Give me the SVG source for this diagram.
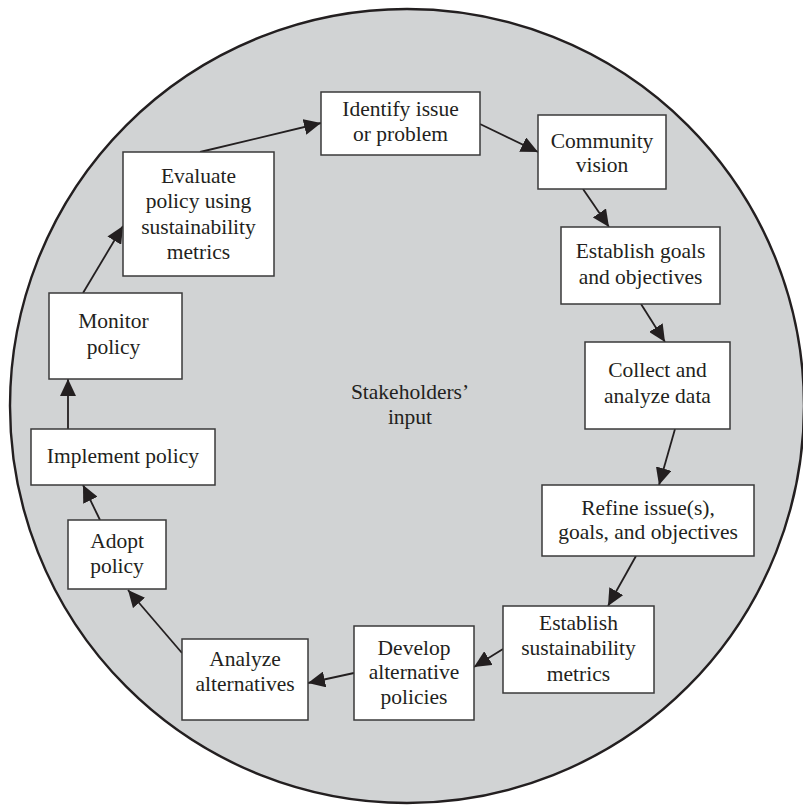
<svg xmlns="http://www.w3.org/2000/svg" width="803" height="807" viewBox="0 0 803 807">
  <style>
    .bg { fill: #ffffff; }
    .disc { fill: #d1d3d4; stroke: #231f20; stroke-width: 2.4; }
    .box { fill: #ffffff; stroke: #3a3a3a; stroke-width: 1.5; }
    .lbl { font-family: "Liberation Serif", "Times New Roman", serif; font-size: 21.5px; fill: #231f20; text-anchor: middle; }
    .edge { stroke: #231f20; stroke-width: 1.8; fill: none; marker-end: url(#ah); }
  </style>
  <defs>
    <marker id="ah" markerUnits="userSpaceOnUse" markerWidth="17" markerHeight="16" refX="17" refY="8" orient="auto">
      <path d="M0,0 L17,8 L0,16 z" fill="#231f20"/>
    </marker>
  </defs>

  <rect class="bg" x="0" y="0" width="803" height="807"/>
  <circle class="disc" cx="407" cy="406" r="397"/>

  <g id="center-label">
    <text class="lbl" x="410" y="399">Stakeholders’</text>
    <text class="lbl" x="410" y="424">input</text>
  </g>

  <!-- connectors drawn before boxes so box borders sit on top -->
  <g id="connectors">
    <line class="edge" x1="200" y1="152" x2="321" y2="123"/>
    <line class="edge" x1="480" y1="124" x2="538" y2="152"/>
    <line class="edge" x1="583" y1="189" x2="609" y2="227"/>
    <line class="edge" x1="641" y1="304" x2="665" y2="342"/>
    <line class="edge" x1="675" y1="429" x2="659" y2="485"/>
    <line class="edge" x1="636" y1="556" x2="608" y2="606"/>
    <line class="edge" x1="503" y1="649" x2="474" y2="667"/>
    <line class="edge" x1="354" y1="673" x2="308" y2="683"/>
    <line class="edge" x1="182" y1="653" x2="128" y2="590"/>
    <line class="edge" x1="100" y1="520" x2="83" y2="485"/>
    <line class="edge" x1="68" y1="429" x2="68" y2="379"/>
    <line class="edge" x1="83" y1="293" x2="123" y2="226"/>
  </g>

  <g id="identify">
    <rect class="box" x="321" y="92" width="159" height="63"/>
    <text class="lbl" x="400.5" y="115.5">Identify issue</text>
    <text class="lbl" x="400.5" y="140.5">or problem</text>
  </g>

  <g id="vision">
    <rect class="box" x="538" y="115" width="128" height="74"/>
    <text class="lbl" x="602" y="147.5">Community</text>
    <text class="lbl" x="602" y="172">vision</text>
  </g>

  <g id="goals">
    <rect class="box" x="561" y="227" width="159" height="77"/>
    <text class="lbl" x="640.5" y="258">Establish goals</text>
    <text class="lbl" x="640.5" y="283.5">and objectives</text>
  </g>

  <g id="collect">
    <rect class="box" x="585" y="342" width="145" height="87"/>
    <text class="lbl" x="657.5" y="377">Collect and</text>
    <text class="lbl" x="657.5" y="402.5">analyze data</text>
  </g>

  <g id="refine">
    <rect class="box" x="542" y="485" width="212" height="71"/>
    <text class="lbl" x="648" y="514.5">Refine issue(s),</text>
    <text class="lbl" x="648" y="539">goals, and objectives</text>
  </g>

  <g id="metrics">
    <rect class="box" x="503" y="606" width="151" height="87"/>
    <text class="lbl" x="578.5" y="629.5">Establish</text>
    <text class="lbl" x="578.5" y="655">sustainability</text>
    <text class="lbl" x="578.5" y="680.5">metrics</text>
  </g>

  <g id="develop">
    <rect class="box" x="354" y="626" width="120" height="94"/>
    <text class="lbl" x="414" y="654.5">Develop</text>
    <text class="lbl" x="414" y="679">alternative</text>
    <text class="lbl" x="414" y="704">policies</text>
  </g>

  <g id="analyze">
    <rect class="box" x="182" y="639" width="126" height="81"/>
    <text class="lbl" x="245" y="665.5">Analyze</text>
    <text class="lbl" x="245" y="691">alternatives</text>
  </g>

  <g id="adopt">
    <rect class="box" x="68" y="520" width="98" height="69"/>
    <text class="lbl" x="117" y="547.5">Adopt</text>
    <text class="lbl" x="117" y="573">policy</text>
  </g>

  <g id="implement">
    <rect class="box" x="31" y="429" width="184" height="56"/>
    <text class="lbl" x="123" y="463">Implement policy</text>
  </g>

  <g id="monitor">
    <rect class="box" x="49" y="293" width="133" height="86"/>
    <text class="lbl" x="113.5" y="328">Monitor</text>
    <text class="lbl" x="113.5" y="353.5">policy</text>
  </g>

  <g id="evaluate">
    <rect class="box" x="123" y="152" width="151" height="124"/>
    <text class="lbl" x="198.5" y="182.5">Evaluate</text>
    <text class="lbl" x="198.5" y="208">policy using</text>
    <text class="lbl" x="198.5" y="233.5">sustainability</text>
    <text class="lbl" x="198.5" y="259">metrics</text>
  </g>
</svg>
